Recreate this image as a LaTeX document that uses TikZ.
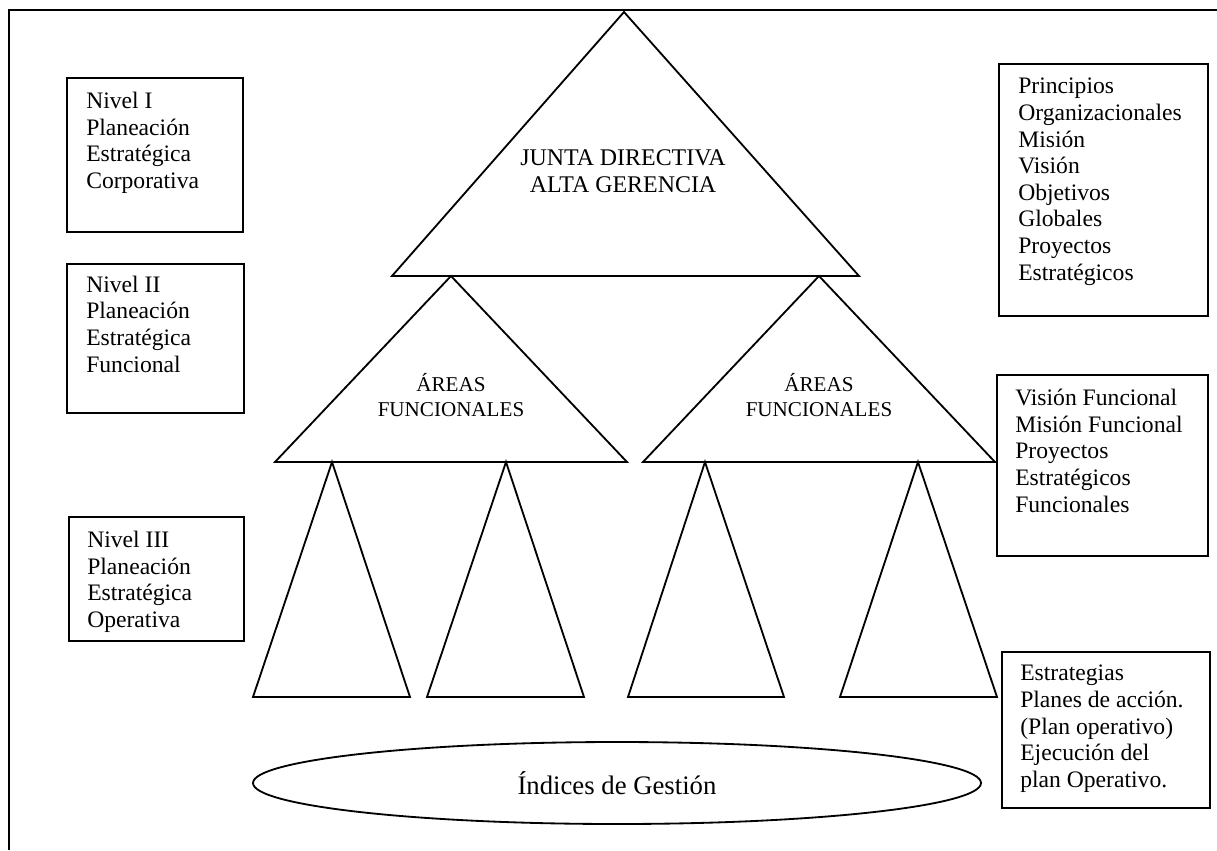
\documentclass[tikz,border=0pt]{standalone}
\usepackage{fontspec}
\setmainfont{Liberation Serif}
\usetikzlibrary{shapes,positioning}

\begin{document}
\begin{tikzpicture}[x=0.025cm,y=-0.025cm]
 \tikzset{caja node/.style={rectangle, draw, line width=1.3pt,
 		anchor=north west, inner sep=0pt}, }
 \tikzset{texto node/.style={align=left, inner sep=0pt,
 		font=\fontsize{16.8}{18.9}\selectfont}, }
 \tikzset{tri node/.style={align=center, inner sep=0pt}, }
 \tikzset{triangulo/.style={line width=1.3pt, line join=miter}, }
 \useasboundingbox (0,0) rectangle (1217,850);
 \draw[line width=1.5pt] (9,850) -- (9,10) -- (1217,10);
 %% triangulos
 \draw[triangulo] (624,12) -- (392,276) -- (859,276) -- cycle;
 \foreach \a/\l/\r in {451/275/627,819/643/995}
 \draw[triangulo] (\a,276) -- (\l,462) -- (\r,462) -- cycle;
 \foreach \a/\l/\r in {332/253/410,506/427/584,705/628/784,918/840/997}
 \draw[triangulo] (\a,462) -- (\l,697) -- (\r,697) -- cycle;
 \node[tri node, font=\fontsize{17}{19.2}\selectfont] (junta) at (623,171)
 	{JUNTA DIRECTIVA\\ALTA GERENCIA};
 \node[tri node, font=\fontsize{15}{17.8}\selectfont] (areas1) at (451,395)
 	{ÁREAS\\FUNCIONALES};
 \node[tri node, font=\fontsize{15}{17.8}\selectfont] (areas2) at (819,395)
 	{ÁREAS\\FUNCIONALES};
 \node[ellipse, draw, line width=1.3pt, inner sep=0pt,
 	minimum width=728*0.025cm, minimum height=82*0.025cm,
 	font=\fontsize{19}{22}\selectfont] (indices) at (617,783)
 	{Índices de Gestión};
 %% cajas
 \node[caja node, minimum width=176*0.025cm, minimum height=154*0.025cm] (1) at (66,77) {};
 \node[caja node, minimum width=177*0.025cm, minimum height=149*0.025cm] (2) at (66,263) {};
 \node[caja node, minimum width=175*0.025cm, minimum height=124*0.025cm] (3) at (68,516) {};
 \node[caja node, minimum width=209*0.025cm, minimum height=252*0.025cm] (4) at (998,63) {};
 \node[caja node, minimum width=211*0.025cm, minimum height=181*0.025cm] (5) at (996,374) {};
 \node[caja node, minimum width=208*0.025cm, minimum height=156*0.025cm] (6) at (1001,651) {};
 \node[texto node, below right=10.7pt and 14.2pt of 1.north west] (t1)
 	{Nivel I\\Planeación\\Estratégica\\Corporativa};
 \node[texto node, below right=9pt and 14.2pt of 2.north west] (t2)
 	{Nivel II\\Planeación\\Estratégica\\Funcional};
 \node[texto node, below right=10.7pt and 13.5pt of 3.north west] (t3)
 	{Nivel III\\Planeación\\Estratégica\\Operativa};
 \node[texto node, below right=10.7pt and 14.2pt of 4.north west] (t4)
 	{Principios\\Organizacionales\\Misión\\Visión\\Objetivos\\Globales\\Proyectos\\Estratégicos};
 \node[texto node, below right=10.7pt and 13.5pt of 5.north west] (t5)
 	{Visión Funcional\\Misión Funcional\\Proyectos\\Estratégicos\\Funcionales};
 \node[texto node, below right=10pt and 13.5pt of 6.north west] (t6)
 	{Estrategias\\Planes de acción.\\(Plan operativo)\\Ejecución del\\plan Operativo.};
 \end{tikzpicture}
\end{document}
